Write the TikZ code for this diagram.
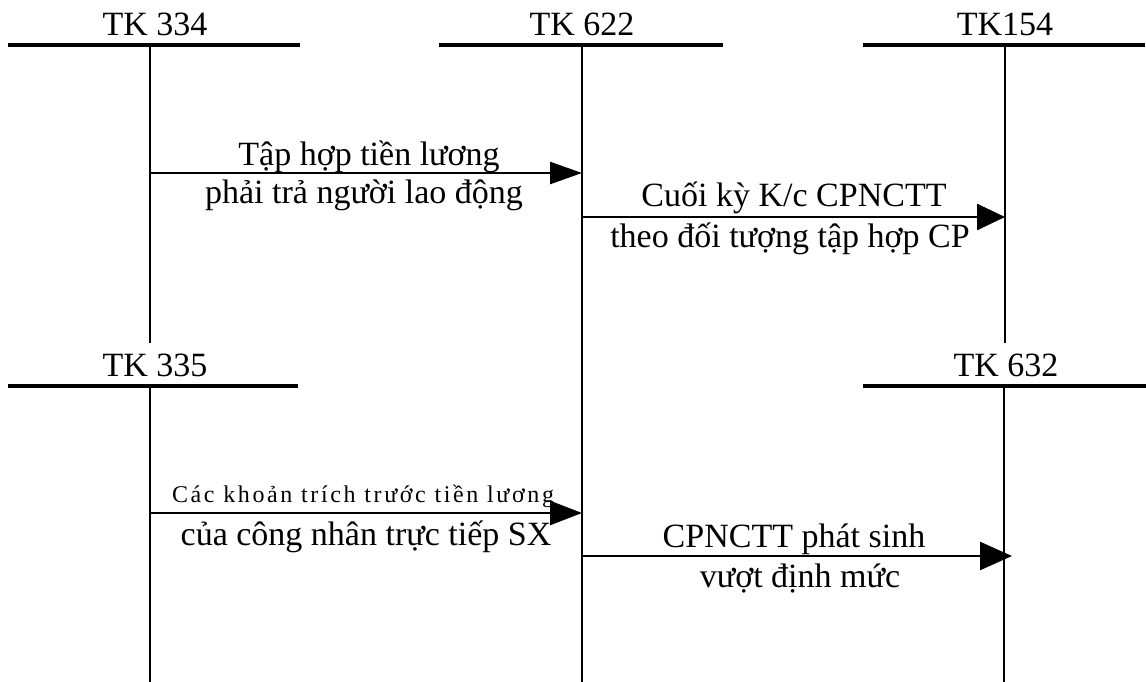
\documentclass[tikz,border=0pt]{standalone}
\usepackage{fontspec}
\setmainfont{Liberation Serif}
\usetikzlibrary{arrows.meta}
\begin{document}
\begin{tikzpicture}[x=1pt,y=-1pt,
  acct/.style={line width=3.2pt},
  stem/.style={line width=2.8pt},
  flow/.style={line width=2.6pt},
  title/.style={anchor=base,inner sep=0pt,font=\fontsize{34}{38}\selectfont},
  lbl/.style={anchor=base,inner sep=0pt,font=\fontsize{34}{38}\selectfont},
  smalllbl/.style={anchor=base,inner sep=0pt,font=\fontsize{24}{27}\selectfont\addfontfeatures{LetterSpace=11}}]
\useasboundingbox (0,0) rectangle (1146,682);

% account headings
\node[title] (t334) at (155,36) {TK 334};
\node[title] (t622) at (582,36) {TK 622};
\node[title] (t154) at (1005,36) {TK154};
\node[title] (t335) at (155,376) {TK 335};
\node[title] (t632) at (1006,376) {TK 632};

% T-account bars
\coordinate (b334l) at (8,45);   \coordinate (b334r) at (300,45);
\coordinate (b622l) at (439,45); \coordinate (b622r) at (723,45);
\coordinate (b154l) at (863,45); \coordinate (b154r) at (1145,45);
\coordinate (b335l) at (8,386);  \coordinate (b335r) at (298,386);
\coordinate (b632l) at (863,386);\coordinate (b632r) at (1146,386);
\draw[acct] (b334l) -- (b334r);
\draw[acct] (b622l) -- (b622r);
\draw[acct] (b154l) -- (b154r);
\draw[acct] (b335l) -- (b335r);
\draw[acct] (b632l) -- (b632r);

% T-account stems
\coordinate (s334a) at (150,45);  \coordinate (s334b) at (150,343);
\coordinate (s622a) at (582,45);  \coordinate (s622b) at (582,682);
\coordinate (s154a) at (1005,45); \coordinate (s154b) at (1005,343);
\coordinate (s335a) at (150,386); \coordinate (s335b) at (150,682);
\coordinate (s632a) at (1004,386);\coordinate (s632b) at (1004,682);
\draw[stem] (s334a) -- (s334b);
\draw[stem] (s622a) -- (s622b);
\draw[stem] (s154a) -- (s154b);
\draw[stem] (s335a) -- (s335b);
\draw[stem] (s632a) -- (s632b);

% entries
\coordinate (e1a) at (150,173);  \coordinate (e1b) at (582,173);
\coordinate (e2a) at (582,217);  \coordinate (e2b) at (1005,217);
\coordinate (e3a) at (150,513);  \coordinate (e3b) at (582,513);
\coordinate (e4a) at (582,556);  \coordinate (e4b) at (1012,556);
\draw[flow,-{Triangle[length=32pt,width=22pt]}] (e1a) -- (e1b);
\draw[flow,-{Triangle[length=28pt,width=26pt]}] (e2a) -- (e2b);
\draw[flow,-{Triangle[length=32pt,width=24pt]}] (e3a) -- (e3b);
\draw[flow,-{Triangle[length=32pt,width=28pt]}] (e4a) -- (e4b);

% entry descriptions
\node[lbl] (l1a) at (369,165) {Tập hợp tiền lương};
\node[lbl] (l1b) at (364,203) {phải trả người lao động};
\node[lbl] (l2a) at (794,206) {Cuối kỳ K/c CPNCTT};
\node[lbl] (l2b) at (790,247) {theo đối tượng tập hợp CP};
\node[smalllbl] (l3a) at (363,502) {Các khoản trích trước tiền lương};
\node[lbl] (l3b) at (366,545) {của công nhân trực tiếp SX};
\node[lbl] (l4a) at (794,547) {CPNCTT phát sinh};
\node[lbl] (l4b) at (800,587) {vượt định mức};
\end{tikzpicture}
\end{document}
